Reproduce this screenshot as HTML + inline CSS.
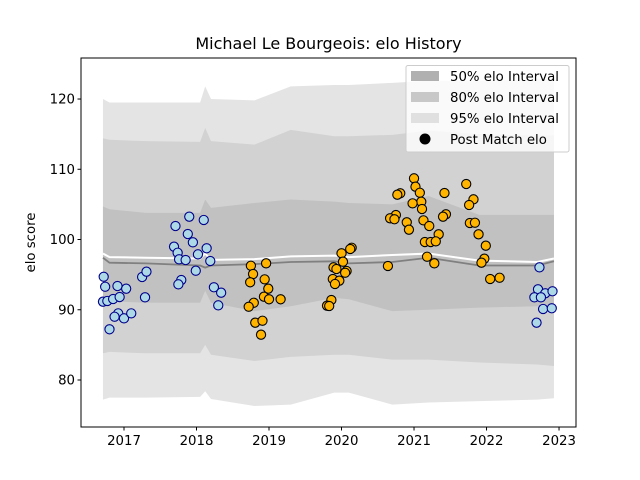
<!DOCTYPE html>
<html><head><meta charset="utf-8"><style>
body{margin:0;background:#fff}
svg{display:block;font-family:"DejaVu Sans","Liberation Sans",sans-serif}
</style></head><body>
<svg id="chart" width="640" height="480" viewBox="0 0 640 480" xmlns="http://www.w3.org/2000/svg">
<rect width="640" height="480" fill="#fff"/>
<text x="328.5" y="49" font-size="16" text-anchor="middle">Michael Le Bourgeois: elo History</text>
<g id="plot"></g>
<g id="axes"></g>
<text transform="translate(35,242.5) rotate(-90)" font-size="13.3" text-anchor="middle">elo score</text>
<g>
<rect x="406" y="65.5" width="163" height="86.5" rx="2" fill="#fff" fill-opacity="0.8" stroke="#ccc"/>
<rect x="411" y="71" width="28" height="10" fill="#b0b0b0"/>
<text x="450" y="81" font-size="13.3">50% elo Interval</text>
<rect x="411" y="92" width="28" height="10" fill="#c8c8c8"/>
<text x="450" y="102" font-size="13.3">80% elo Interval</text>
<rect x="411" y="113" width="28" height="10" fill="#e0e0e0"/>
<text x="450" y="123" font-size="13.3">95% elo Interval</text>
<circle cx="425" cy="139" r="5.5" fill="#000"/>
<text x="450" y="144" font-size="13.3">Post Match elo</text>
</g>
</svg>
<script>
const bandYears=[2016.71,2016.8,2017.3,2018.05,2018.12,2018.2,2018.8,2019.3,2019.9,2020.1,2020.7,2021.2,2021.9,2022.7,2022.93];
const meanLine=[97.4,96.7,96.6,96.3,96.0,96.3,96.5,96.8,96.9,96.6,96.8,97.4,96.3,96.3,96.9];
const medianLine=[98.0,97.5,97.4,97.3,98.0,97.1,97.2,97.6,97.7,97.5,97.8,98.0,97.0,96.8,97.3];
const hi95=[120.0,119.5,119.5,119.5,121.8,120.0,119.8,121.8,122.0,122.0,122.3,122.6,122.6,122.8,123.0];
const lo95=[77.2,77.5,77.5,77.6,78.4,77.3,76.3,76.5,78.2,78.2,76.5,76.8,77.0,77.2,77.4];
const hi80=[114.4,114.2,114.0,113.9,115.9,114.0,113.5,115.6,114.7,114.7,114.9,115.5,115.0,114.8,114.8];
const lo80=[83.8,84.0,83.8,83.8,85.0,83.6,82.7,83.3,83.6,83.6,82.9,82.9,82.5,82.2,82.0];
const hi50=[104.7,104.3,103.8,103.8,105.7,104.5,105.2,105.7,105.4,105.2,105.0,106.2,103.5,103.5,103.5];
const lo50=[91.2,91.2,91.0,91.0,92.7,91.0,89.8,90.5,91.7,91.5,89.8,90.0,90.3,90.5,90.8];
const blueYears=[2016.72,2016.74,2016.91,2017.03,2016.71,2016.77,2016.85,2016.94,2016.92,2016.87,2017.00,2017.10,2016.80,2017.25,2017.31,2017.29,2017.90,2018.10,2017.71,2017.88,2017.95,2017.69,2017.74,2018.14,2018.02,2017.76,2017.85,2018.19,2017.99,2017.79,2017.75,2018.24,2018.34,2018.30,2022.73,2022.71,2022.81,2022.91,2022.66,2022.75,2022.78,2022.90,2022.69];
const blueElo=[94.70,93.28,93.38,93.0,91.15,91.25,91.53,91.81,89.49,89.01,88.78,89.49,87.22,94.66,95.42,91.77,103.25,102.78,101.92,100.78,99.60,98.98,98.12,98.75,97.89,97.18,97.08,96.94,95.56,94.23,93.62,93.20,92.43,90.63,96.04,92.91,92.34,92.63,91.77,91.77,90.11,90.21,88.16];
const orangeYears=[2018.75,2018.96,2018.78,2018.74,2018.94,2018.99,2018.93,2019.00,2018.79,2018.72,2018.81,2018.91,2018.89,2019.16,2020.0,2020.14,2020.12,2020.02,2019.89,2019.93,2020.07,2020.05,2019.88,2019.97,2019.91,2019.86,2019.80,2019.83,2020.64,2021.0,2021.02,2021.08,2020.81,2020.77,2021.10,2020.98,2021.11,2020.75,2020.67,2020.73,2020.90,2020.93,2021.13,2021.21,2021.34,2021.15,2021.23,2021.30,2021.18,2021.28,2021.42,2021.44,2021.40,2021.72,2021.82,2021.76,2021.77,2021.84,2021.89,2021.99,2021.97,2021.93,2022.05,2022.18];
const orangeElo=[96.27,96.61,95.09,93.91,94.33,93.0,91.86,91.49,91.00,90.43,88.16,88.44,86.45,91.49,98.04,98.83,98.65,96.84,96.04,95.80,95.52,95.27,94.38,94.14,93.67,91.39,90.58,90.53,96.23,108.71,107.52,106.66,106.58,106.38,105.38,105.15,104.34,103.49,103.02,102.88,102.45,101.40,102.73,101.92,100.74,99.64,99.64,99.74,97.55,96.61,106.62,103.59,103.25,107.90,105.72,104.91,102.35,102.39,100.74,99.12,97.27,96.70,94.38,94.56];
const yTicks=[80,90,100,110,120];
const xTicks=[2017,2018,2019,2020,2021,2022,2023];

const L=81,R=576,T=58,B=427;
const X0=2016.407,X1=2023.234,Y0=73.31,Y1=125.84;
const sx=v=>L+(v-X0)/(X1-X0)*(R-L);
const sy=v=>B-(v-Y0)/(Y1-Y0)*(B-T);
const NS='http://www.w3.org/2000/svg';
const plot=document.getElementById('plot'),axes=document.getElementById('axes');
function mk(tag,attrs,parent){const e=document.createElementNS(NS,tag);for(const k in attrs)e.setAttribute(k,attrs[k]);parent.appendChild(e);return e;}
function band(hi,lo,fill,name){
  let d='M'+bandYears.map((y,i)=>sx(y)+','+sy(hi[i])).join('L');
  for(let i=bandYears.length-1;i>=0;i--)d+='L'+sx(bandYears[i])+','+sy(lo[i]);
  const p=mk('path',{d:d+'Z',fill:fill},plot);
  
  
}
band(hi95,lo95,'#e4e4e4','band-95');
band(hi80,lo80,'#d2d2d2','band-80');
band(hi50,lo50,'#c1c1c1','band-50');
function line(vals,stroke,w,name){
  const p=mk('polyline',{points:bandYears.map((y,i)=>sx(y)+','+sy(vals[i])).join(' '),fill:'none',stroke:stroke,'stroke-width':w},plot);
  
  
}
line(meanLine,'#808080',1.8,'mean-line');
line(medianLine,'#ffffff',2,'median-line');
function pts(xs,ys,fill,stroke,name){
  xs.forEach((x,i)=>{
    const c=mk('circle',{cx:sx(x),cy:sy(ys[i]),r:4.6,fill:fill,stroke:stroke,'stroke-width':1.1},plot);
    
    
  });
}
pts(blueYears,blueElo,'#add8e6','#00008b','post-match-point-blue');
pts(orangeYears,orangeElo,'#ffb400','#000000','post-match-point-orange');
const frame=mk('rect',{x:L,y:T,width:R-L,height:B-T,fill:'none',stroke:'#000','stroke-width':1},axes);


yTicks.forEach(v=>{
  const t=mk('line',{x1:L-3.5,x2:L,y1:sy(v),y2:sy(v),stroke:'#000'},axes);
  
  
  const tx=mk('text',{x:L-6,y:sy(v)+4.6,'font-size':13.3,'text-anchor':'end'},axes);
  tx.textContent=v;
  
  
});
xTicks.forEach(v=>{
  const t=mk('line',{x1:sx(v),x2:sx(v),y1:B,y2:B+3.5,stroke:'#000'},axes);
  
  
  const tx=mk('text',{x:sx(v),y:B+18,'font-size':13.3,'text-anchor':'middle'},axes);
  tx.textContent=v;
  
  
});
</script>
</body></html>
